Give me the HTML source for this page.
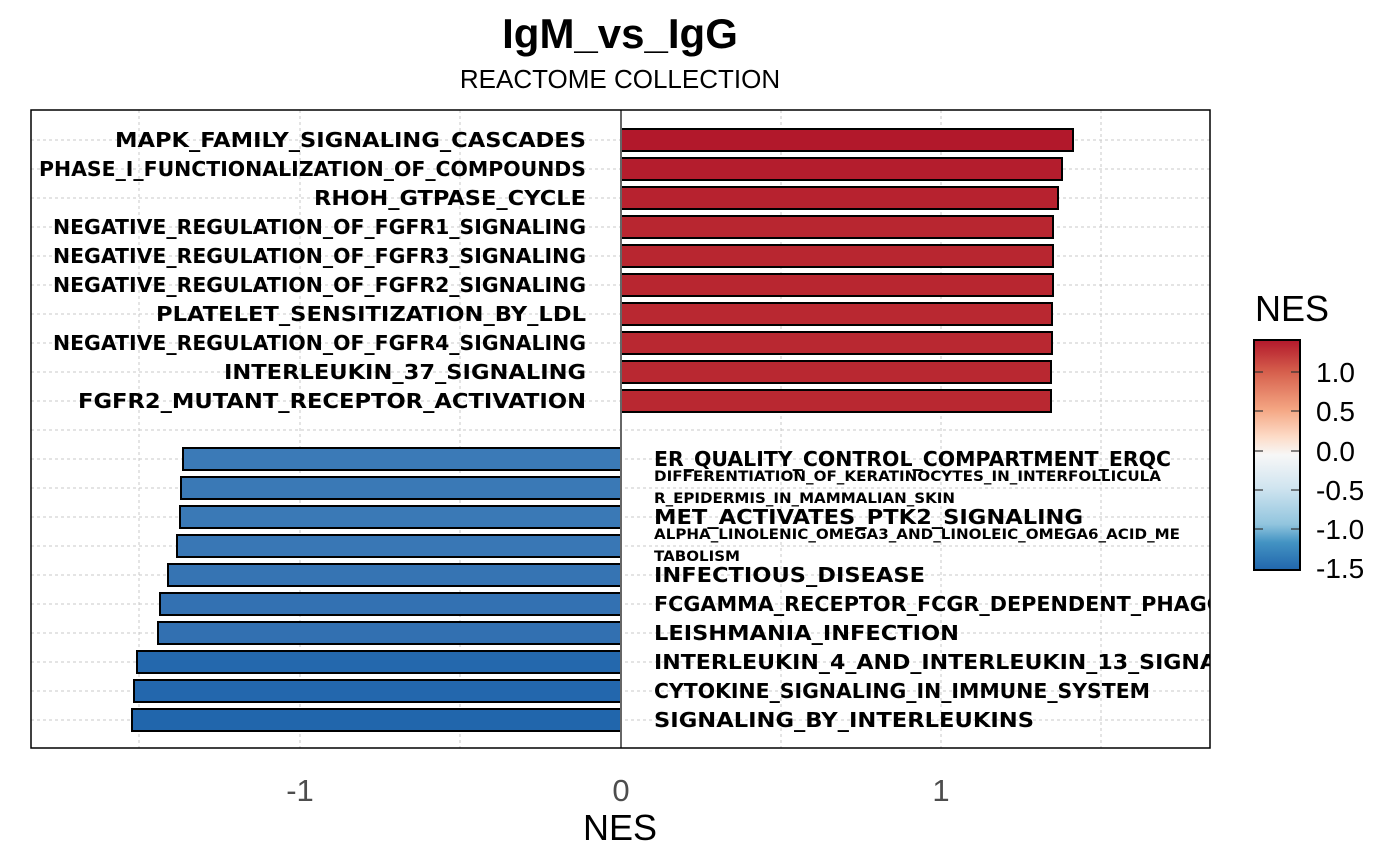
<!DOCTYPE html><html><head><style>body{margin:0;background:#fff}svg{display:block}</style></head><body>
<svg width="1400" height="865" xmlns="http://www.w3.org/2000/svg" font-family="Liberation Sans, Arial, sans-serif">
<defs>
<clipPath id="pc"><rect x="31" y="110" width="1179" height="638"/></clipPath>
<linearGradient id="cb" x1="0" y1="0" x2="0" y2="1">
<stop offset="0" stop-color="#B2182B"/><stop offset="0.14" stop-color="#D6604D"/><stop offset="0.3" stop-color="#F4A582"/><stop offset="0.42" stop-color="#FDDBC7"/><stop offset="0.5" stop-color="#F7F7F7"/><stop offset="0.64" stop-color="#D1E5F0"/><stop offset="0.8" stop-color="#92C5DE"/><stop offset="0.88" stop-color="#4393C3"/><stop offset="1" stop-color="#2166AC"/>
</linearGradient>
</defs>
<text x="620" y="48" font-size="42" font-weight="bold" text-anchor="middle">IgM_vs_IgG</text>
<text x="620" y="88" font-size="26" text-anchor="middle">REACTOME COLLECTION</text>
<g stroke="#c8c8c8" stroke-dasharray="3,3" stroke-width="1">
<line x1="139" y1="110" x2="139" y2="748"/><line x1="300" y1="110" x2="300" y2="748"/><line x1="460" y1="110" x2="460" y2="748"/><line x1="781" y1="110" x2="781" y2="748"/><line x1="941" y1="110" x2="941" y2="748"/><line x1="1101" y1="110" x2="1101" y2="748"/>
<line x1="31" y1="140" x2="1210" y2="140"/><line x1="31" y1="169" x2="1210" y2="169"/><line x1="31" y1="198" x2="1210" y2="198"/><line x1="31" y1="227" x2="1210" y2="227"/><line x1="31" y1="256" x2="1210" y2="256"/><line x1="31" y1="285" x2="1210" y2="285"/><line x1="31" y1="314" x2="1210" y2="314"/><line x1="31" y1="343" x2="1210" y2="343"/><line x1="31" y1="372" x2="1210" y2="372"/><line x1="31" y1="401" x2="1210" y2="401"/><line x1="31" y1="430" x2="1210" y2="430"/>
<line x1="31" y1="459" x2="1210" y2="459"/><line x1="31" y1="488" x2="1210" y2="488"/><line x1="31" y1="517" x2="1210" y2="517"/><line x1="31" y1="546" x2="1210" y2="546"/><line x1="31" y1="575" x2="1210" y2="575"/><line x1="31" y1="604" x2="1210" y2="604"/><line x1="31" y1="633" x2="1210" y2="633"/><line x1="31" y1="662" x2="1210" y2="662"/><line x1="31" y1="691" x2="1210" y2="691"/><line x1="31" y1="720" x2="1210" y2="720"/>
</g>
<g stroke="#000" stroke-width="2">
<rect x="621" y="129" width="452" height="22" fill="#B2182B"/>
<rect x="621" y="158" width="441" height="22" fill="#B41D2D"/>
<rect x="621" y="187" width="437" height="22" fill="#B7222F"/>
<rect x="621" y="216" width="432" height="22" fill="#B82630"/>
<rect x="621" y="245" width="432" height="22" fill="#B82630"/>
<rect x="621" y="274" width="432" height="22" fill="#B82630"/>
<rect x="621" y="303" width="431" height="22" fill="#B92831"/>
<rect x="621" y="332" width="431" height="22" fill="#B92831"/>
<rect x="621" y="361" width="430" height="22" fill="#B92831"/>
<rect x="621" y="390" width="430" height="22" fill="#B92831"/>
<rect x="183" y="448" width="438" height="22" fill="#3B7AB7"/>
<rect x="181" y="477" width="440" height="22" fill="#3A79B6"/>
<rect x="180" y="506" width="441" height="22" fill="#3A79B6"/>
<rect x="177" y="535" width="444" height="22" fill="#3977B5"/>
<rect x="168" y="564" width="453" height="22" fill="#3674B3"/>
<rect x="160" y="593" width="461" height="22" fill="#3371B2"/>
<rect x="158" y="622" width="463" height="22" fill="#3270B1"/>
<rect x="137" y="651" width="484" height="22" fill="#2468AD"/>
<rect x="134" y="680" width="487" height="22" fill="#2367AD"/>
<rect x="132" y="709" width="489" height="22" fill="#2166AC"/>
</g>
<line x1="621" y1="110" x2="621" y2="748" stroke="#666" stroke-width="2"/>
<g font-family="DejaVu Sans, sans-serif" font-weight="bold" font-size="20" text-anchor="end">
<text x="586" y="147" textLength="471" lengthAdjust="spacingAndGlyphs">MAPK_FAMILY_SIGNALING_CASCADES</text>
<text x="586" y="176" textLength="547" lengthAdjust="spacingAndGlyphs">PHASE_I_FUNCTIONALIZATION_OF_COMPOUNDS</text>
<text x="586" y="205" textLength="272" lengthAdjust="spacingAndGlyphs">RHOH_GTPASE_CYCLE</text>
<text x="586" y="234" textLength="533" lengthAdjust="spacingAndGlyphs">NEGATIVE_REGULATION_OF_FGFR1_SIGNALING</text>
<text x="586" y="263" textLength="533" lengthAdjust="spacingAndGlyphs">NEGATIVE_REGULATION_OF_FGFR3_SIGNALING</text>
<text x="586" y="292" textLength="533" lengthAdjust="spacingAndGlyphs">NEGATIVE_REGULATION_OF_FGFR2_SIGNALING</text>
<text x="586" y="321" textLength="430" lengthAdjust="spacingAndGlyphs">PLATELET_SENSITIZATION_BY_LDL</text>
<text x="586" y="350" textLength="533" lengthAdjust="spacingAndGlyphs">NEGATIVE_REGULATION_OF_FGFR4_SIGNALING</text>
<text x="586" y="379" textLength="362" lengthAdjust="spacingAndGlyphs">INTERLEUKIN_37_SIGNALING</text>
<text x="586" y="408" textLength="508" lengthAdjust="spacingAndGlyphs">FGFR2_MUTANT_RECEPTOR_ACTIVATION</text>
</g>
<g clip-path="url(#pc)" font-family="DejaVu Sans, sans-serif" font-weight="bold">
<text x="654" y="466" font-size="20" textLength="517" lengthAdjust="spacingAndGlyphs">ER_QUALITY_CONTROL_COMPARTMENT_ERQC</text>
<text x="654" y="481" font-size="14" textLength="507" lengthAdjust="spacingAndGlyphs">DIFFERENTIATION_OF_KERATINOCYTES_IN_INTERFOLLICULA</text>
<text x="654" y="503" font-size="14" textLength="301" lengthAdjust="spacingAndGlyphs">R_EPIDERMIS_IN_MAMMALIAN_SKIN</text>
<text x="654" y="524" font-size="20" textLength="429" lengthAdjust="spacingAndGlyphs">MET_ACTIVATES_PTK2_SIGNALING</text>
<text x="654" y="539" font-size="14" textLength="526" lengthAdjust="spacingAndGlyphs">ALPHA_LINOLENIC_OMEGA3_AND_LINOLEIC_OMEGA6_ACID_ME</text>
<text x="654" y="561" font-size="14" textLength="86" lengthAdjust="spacingAndGlyphs">TABOLISM</text>
<text x="654" y="582" font-size="20" textLength="271" lengthAdjust="spacingAndGlyphs">INFECTIOUS_DISEASE</text>
<text x="654" y="611" font-size="20" textLength="670" lengthAdjust="spacingAndGlyphs">FCGAMMA_RECEPTOR_FCGR_DEPENDENT_PHAGOCYTOSIS</text>
<text x="654" y="640" font-size="20" textLength="305" lengthAdjust="spacingAndGlyphs">LEISHMANIA_INFECTION</text>
<text x="654" y="669" font-size="20" textLength="622" lengthAdjust="spacingAndGlyphs">INTERLEUKIN_4_AND_INTERLEUKIN_13_SIGNALING</text>
<text x="654" y="698" font-size="20" textLength="496" lengthAdjust="spacingAndGlyphs">CYTOKINE_SIGNALING_IN_IMMUNE_SYSTEM</text>
<text x="654" y="727" font-size="20" textLength="380" lengthAdjust="spacingAndGlyphs">SIGNALING_BY_INTERLEUKINS</text>
</g>
<rect x="31" y="110" width="1179" height="638" fill="none" stroke="#000" stroke-width="1.5"/>
<g font-size="31" fill="#4d4d4d" text-anchor="middle">
<text x="300" y="801">-1</text><text x="621" y="801">0</text><text x="941" y="801">1</text>
</g>
<text x="620" y="840" font-size="36" text-anchor="middle">NES</text>
<text x="1255" y="321" font-size="36">NES</text>
<rect x="1254" y="340" width="46" height="230" fill="url(#cb)" stroke="#000" stroke-width="2"/>
<g stroke="#333" stroke-width="1.2">
<line x1="1255" y1="372" x2="1263" y2="372"/><line x1="1291" y1="372" x2="1299" y2="372"/>
<line x1="1255" y1="411" x2="1263" y2="411"/><line x1="1291" y1="411" x2="1299" y2="411"/>
<line x1="1255" y1="451" x2="1263" y2="451"/><line x1="1291" y1="451" x2="1299" y2="451"/>
<line x1="1255" y1="490" x2="1263" y2="490"/><line x1="1291" y1="490" x2="1299" y2="490"/>
<line x1="1255" y1="529" x2="1263" y2="529"/><line x1="1291" y1="529" x2="1299" y2="529"/>
</g>
<g font-size="28">
<text x="1316" y="382">1.0</text><text x="1316" y="421">0.5</text><text x="1316" y="461">0.0</text>
<text x="1316" y="500">-0.5</text><text x="1316" y="539">-1.0</text><text x="1316" y="578">-1.5</text>
</g>
</svg>
</body></html>
